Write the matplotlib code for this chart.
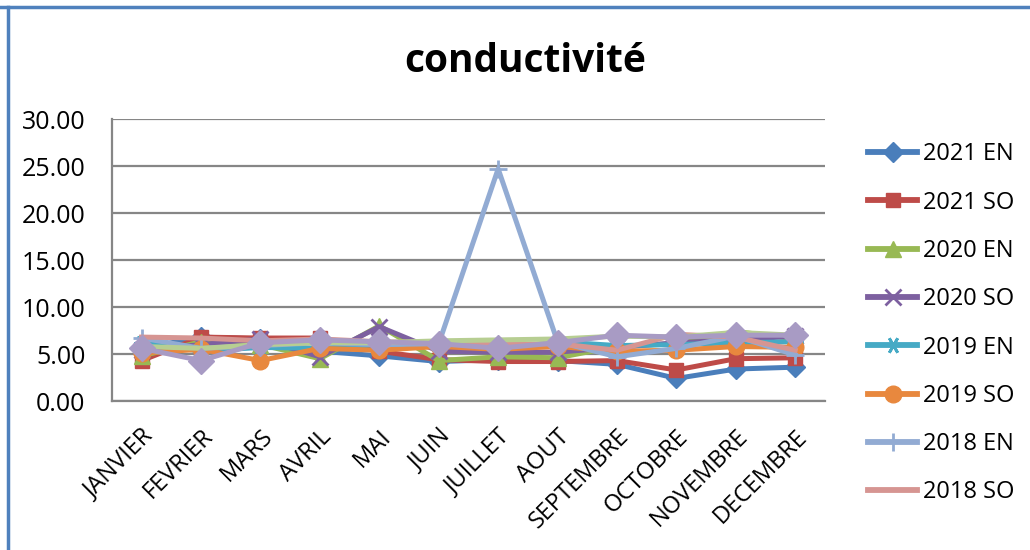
import matplotlib
matplotlib.use('Agg')
import matplotlib.pyplot as plt
from matplotlib.lines import Line2D
import numpy as np

plt.rcParams['font.family'] = ['Open Sans', 'DejaVu Sans']

mois = ['JANVIER', 'FEVRIER', 'MARS', 'AVRIL', 'MAI', 'JUIN', 'JUILLET',
        'AOUT', 'SEPTEMBRE', 'OCTOBRE', 'NOVEMBRE', 'DECEMBRE']

en_2021 = [5.6, 6.8, 6.6, 5.3, 4.8, 4.2, 4.4, 4.3, 3.9, 2.4, 3.4, 3.6]
so_2021 = [4.3, 6.8, 6.7, 6.7, 5.3, 4.4, 4.2, 4.2, 4.3, 3.3, 4.5, 4.6]
en_2020 = [4.8, 6.3, 6.0, 4.5, 8.0, 4.3, 4.7, 4.6, 5.8, 6.1, 7.4, 6.6]
so_2020 = [5.4, 6.0, 6.6, 4.7, 7.9, 5.3, 5.2, 5.2, 5.7, 6.2, 6.5, 6.9]
en_2019 = [6.2, 5.3, 5.7, 5.6, 6.0, 6.1, 5.5, 6.3, 5.9, 6.0, 6.2, 6.3]
so_2019 = [5.1, 5.5, 4.3, 5.6, 5.4, 5.8, 5.5, 5.8, 5.3, 5.4, 5.8, 5.7]
en_2018 = [6.7, 5.6, 5.9, 6.2, 6.0, 6.1, 24.7, 6.3, 4.7, 5.6, 6.9, 4.9]
so_2018 = [6.8, 6.7, 6.4, 6.6, 6.3, 6.2, 6.0, 6.1, 5.4, 7.1, 6.8, 5.4]
serie_9 = [5.8, 5.6, 6.0, 6.2, 6.2, 6.4, 6.5, 6.6, 6.9, 6.8, 7.3, 7.0]
serie_10 = [5.6, 4.3, 6.2, 6.5, 6.3, 6.1, 5.6, 6.2, 7.0, 6.8, 7.0, 7.0]

# (6, 2, 90) = asterisk a 6 branches, une branche verticale
series = [
    ('2021 EN', en_2021, '#4A7EBB', 'D', 10),
    ('2021 SO', so_2021, '#BE4B48', 's', 10),
    ('2020 EN', en_2020, '#98B954', '^', 12),
    ('2020 SO', so_2020, '#7D60A0', 'x', 11),
    ('2019 EN', en_2019, '#46AAC5', (6, 2, 90), 12),
    ('2019 SO', so_2019, '#E8883E', 'o', 12),
    ('2018 EN', en_2018, '#92ABD3', '+', 13),
    ('2018 SO', so_2018, '#D69592', None, 0),
    ('_nolegend_', serie_9, '#B7CE92', None, 0),
    ('_nolegend_', serie_10, '#A89BC4', 'D', 13),
]

fig = plt.figure(figsize=(10.3, 5.5), dpi=100)
ax = fig.add_axes([0.1087, 0.2709, 0.6922, 0.5127])

x = np.arange(len(mois))
for nom, vals, col, mk, ms in series:
    fin = mk in ('x', '+') or isinstance(mk, tuple)
    ax.plot(x, vals, color=col, lw=3.6, marker=mk, markersize=ms,
            markeredgewidth=2 if fin else 1,
            markeredgecolor=col, markerfacecolor=col, label=nom,
            solid_joinstyle='round')

ax.set_xlim(-0.5, len(mois) - 0.5)
ax.set_ylim(0, 30)
ax.set_yticks(np.arange(0, 31, 5))
ax.set_yticklabels(['%.2f' % v for v in np.arange(0, 31, 5)], fontsize=18)
ax.set_xticks(x)
ax.set_xticklabels(mois, fontsize=17, rotation=45, ha='right',
                   rotation_mode='anchor')
ax.tick_params(length=0, pad=17)
ax.tick_params(axis='y', pad=19)
ax.grid(axis='y', color='#868686', lw=1.6)
ax.set_axisbelow(True)
for s in ['top', 'right']:
    ax.spines[s].set_visible(False)
for s in ['left', 'bottom']:
    ax.spines[s].set_color('#868686')
    ax.spines[s].set_linewidth(1.6)

fig.text(0.5097, 0.888, 'conductivité', fontsize=28, fontweight='bold',
         ha='center', va='center')

leg = fig.legend(loc='upper left', bbox_to_anchor=(0.822, 0.78),
                 frameon=False, fontsize=17, handlelength=2.1,
                 handletextpad=0.25, labelspacing=1.03)
for h in leg.legend_handles:
    h.set_linewidth(4.2)

# cadre bleu du graphique
fig.add_artist(Line2D([0, 1], [0.987, 0.987], color='#4F81BD', lw=2.5))
fig.add_artist(Line2D([0.0078, 0.0078], [0, 0.987], color='#4F81BD', lw=2.5))

fig.savefig('out.png', dpi=100)
